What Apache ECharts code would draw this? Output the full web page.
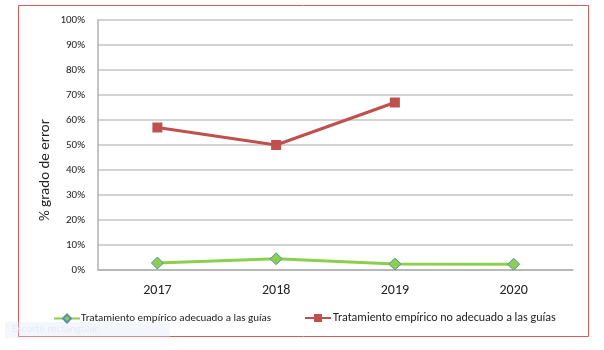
<!DOCTYPE html>
<html>
<head>
<meta charset="UTF-8">
<title>grado de error</title>
<script src="https://cdn.jsdelivr.net/npm/echarts@6/dist/echarts.min.js"></script>
<style>
  html, body { margin: 0; padding: 0; background: #fff; }
  #chart { width: 604px; height: 350px; }
</style>
</head>
<body>
<div id="chart"></div>
<script>
var years = ['2017', '2018', '2019', '2020'];
var adecuado = [2.8, 4.5, 2.4, 2.3];
var noAdecuado = [57, 50, 67, null];
var yTicks = [0, 100, 10];
var nombres = ['Tratamiento empírico adecuado a las guías', 'Tratamiento empírico no adecuado a las guías'];

var myChart = echarts.init(document.getElementById('chart'));
var font = 'Carlito, "Liberation Sans", "Noto Sans", sans-serif';

var option = {
  animation: false,
  textStyle: { fontFamily: font },
  graphic: [
    {
      type: 'rect',
      shape: { x: 18.5, y: 5.5, width: 570, height: 331 },
      style: { fill: 'none', stroke: '#d9595c', lineWidth: 1 }
    },
    {
      type: 'rect',
      shape: { x: 5, y: 322, width: 165, height: 16 },
      style: { fill: 'rgba(220,230,245,0.35)' }
    },
    {
      type: 'text',
      left: 12, top: 324,
      style: { text: 'Escorte rectangular', fill: '#e6eaf3', fontSize: 11, fontFamily: font }
    },
    {
      type: 'text',
      x: 45, y: 170,
      rotation: Math.PI / 2,
      style: {
        text: '% grado de error', fill: '#222', fontSize: 15, fontFamily: font,
        align: 'center', verticalAlign: 'middle'
      }
    }
  ],
  grid: { left: 98, right: 31, top: 20, bottom: 80 },
  legend: [
    {
      left: 48, top: 308,
      itemWidth: 26, itemHeight: 10, itemGap: 4,
      textStyle: { fontSize: 11, color: '#222', padding: [0, 0, 0, -4] },
      data: [nombres[0]]
    },
    {
      left: 299, top: 307,
      itemWidth: 26, itemHeight: 10,
      textStyle: { fontSize: 12, color: '#222', padding: [0, 0, 0, -3] },
      data: [nombres[1]]
    }
  ],
  xAxis: {
    type: 'category',
    data: years,
    boundaryGap: true,
    axisLine: { lineStyle: { color: '#b0b0b0', width: 1.5 } },
    axisTick: { show: false },
    axisLabel: { fontSize: 14, color: '#222', margin: 13 }
  },
  yAxis: {
    type: 'value',
    min: yTicks[0],
    max: yTicks[1],
    interval: yTicks[2],
    axisLine: { show: true, lineStyle: { color: '#b0b0b0', width: 1.5 } },
    axisTick: { show: false },
    axisLabel: { formatter: '{value}%', fontSize: 11, color: '#222', margin: 13 },
    splitLine: { lineStyle: { color: '#c4c4c4', width: 1.5 } }
  },
  series: [
    {
      name: nombres[0],
      type: 'line',
      data: adecuado,
      symbol: 'diamond',
      symbolSize: 12,
      lineStyle: { color: '#8ccf4d', width: 3 },
      itemStyle: { color: '#8ccf4d', borderColor: '#5b8fb0', borderWidth: 1 }
    },
    {
      name: nombres[1],
      type: 'line',
      data: noAdecuado,
      symbol: 'rect',
      symbolSize: 10,
      lineStyle: { color: '#c0504d', width: 3 },
      itemStyle: { color: '#c0504d' }
    }
  ]
};
myChart.setOption(option);
</script>
</body>
</html>
